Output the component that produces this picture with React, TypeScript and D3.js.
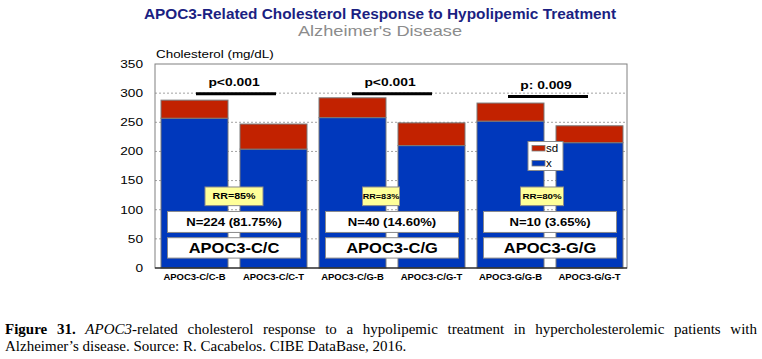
import React, { useLayoutEffect, useRef, useState } from "react";
import * as d3 from "d3";

const categories = ["APOC3-C/C-B", "APOC3-C/C-T", "APOC3-C/G-B", "APOC3-C/G-T", "APOC3-G/G-B", "APOC3-G/G-T"];
const meanValues = [257, 204, 258, 210, 252, 215];
const sdValues = [31, 43, 34, 39, 31, 29];
const yTicks = [0, 50, 100, 150, 200, 250, 300, 350];
const genotypes = ["APOC3-C/C", "APOC3-C/G", "APOC3-G/G"];
const nLabels = ["N=224 (81.75%)", "N=40 (14.60%)", "N=10 (3.65%)"];
const rrLabels = ["RR=85%", "RR=83%", "RR=80%"];
const pLabels = ["p<0.001", "p<0.001", "p: 0.009"];
const pLevels = [300, 300, 295];

const W = 762;
const H = 359;
const M = { left: 155, right: 627, top: 64, bottom: 268 };
const BLUE = "#0038BC";
const RED = "#C22200";
const FONT = "'Liberation Sans', Arial, Helvetica, sans-serif";
const SERIF = "'Liberation Serif', 'Times New Roman', Times, serif";

// annotation styling (RR box tweaks)
const rrBoxW = [58, 37, 43];
const rrShift = [0, -11, -8];
const rrFont = [8.2, 7, 7.5];

function ST(props: any) {
  const { x, y, sx = 1, children, ...rest } = props;
  return (
    <text transform={`translate(${x},${y}) scale(${sx},1)`} fontFamily={FONT} {...rest}>
      {children}
    </text>
  );
}

export default function App() {
  const y = d3.scaleLinear().domain([0, 350]).range([M.bottom, M.top]);
  const x = d3
    .scaleBand<string>()
    .domain(categories)
    .range([M.left, M.left + 474])
    .paddingInner(0.152)
    .paddingOuter(0.076);
  const bw = x.bandwidth();

  const rows = categories.map((c, i) => ({ cat: c, x: meanValues[i], sd: sdValues[i] }));
  const stack = d3.stack<any>().keys(["x", "sd"])(rows);

  const groupCenter = (g: number) => {
    const a = x(categories[2 * g])!;
    const b = x(categories[2 * g + 1])! + bw;
    return (a + b) / 2;
  };

  const capRef = useRef<SVGTextElement>(null);
  const [ws, setWs] = useState(0);
  useLayoutEffect(() => {
    if (capRef.current) {
      const len = capRef.current.getComputedTextLength();
      const txt = capRef.current.textContent || "";
      const n = (txt.match(/ /g) || []).length;
      if (n > 0) setWs((752 - len) / n);
    }
  }, []);

  return (
    <svg
      width={W}
      height={H}
      style={{ position: "absolute", left: 0, top: 0, background: "#fff", display: "block" }}
    >
      <rect x={0} y={0} width={W} height={H} fill="#fff" />
      {/* titles */}
      <ST x={380} y={19} sx={1.06} textAnchor="middle" fontSize={14.5} fontWeight="bold" fill="#1b1f82">
        APOC3-Related Cholesterol Response to Hypolipemic Treatment
      </ST>
      <ST x={380} y={36} sx={1.3} textAnchor="middle" fontSize={14} fill="#8c8c8c">
        Alzheimer's Disease
      </ST>
      <ST x={156} y={58} sx={1.22} fontSize={11} fill="#000">
        Cholesterol (mg/dL)
      </ST>

      {/* gridlines */}
      {yTicks
        .filter((t) => t > 0 && t < 350)
        .map((t) => (
          <line
            key={t}
            x1={M.left}
            x2={M.right}
            y1={y(t)}
            y2={y(t)}
            stroke="#8a8a8a"
            strokeWidth={0.8}
            strokeDasharray="2,2"
          />
        ))}

      {/* y tick labels */}
      {yTicks.map((t) => (
        <ST key={t} x={143} y={y(t) + 3.8} sx={1.3} textAnchor="end" fontSize={10.5} fill="#000">
          {t}
        </ST>
      ))}

      {/* bars */}
      {stack.map((layer, li) => (
        <g key={li}>
          {layer.map((d: any, i: number) => (
            <rect
              key={i}
              x={x(categories[i])}
              y={y(d[1])}
              width={bw}
              height={y(d[0]) - y(d[1])}
              fill={li === 0 ? BLUE : RED}
              stroke="#7a7a7a"
              strokeWidth={1}
            />
          ))}
        </g>
      ))}

      {/* frame */}
      <rect x={M.left} y={M.top} width={M.right - M.left} height={M.bottom - M.top} fill="none" stroke="#808080" strokeWidth={1} />
      <line x1={M.left} x2={M.right} y1={M.bottom} y2={M.bottom} stroke="#000" strokeWidth={1} />

      {/* x labels */}
      {categories.map((c) => (
        <ST key={c} x={x(c)! + bw / 2} y={280} sx={1.13} textAnchor="middle" fontSize={8.4} fontWeight="bold" fill="#000">
          {c}
        </ST>
      ))}

      {/* significance */}
      {pLabels.map((p, g) => {
        const cx = groupCenter(g) + (g === 0 ? 2 : g === 2 ? -2 : 0);
        const ly = y(pLevels[g]) + 0.5;
        return (
          <g key={g}>
            <line x1={cx - 40} x2={cx + 40} y1={ly} y2={ly} stroke="#000" strokeWidth={3} />
            <ST x={cx - 2} y={ly - 7.5} sx={1.32} textAnchor="middle" fontSize={10.5} fontWeight="bold" fill="#000">
              {p}
            </ST>
          </g>
        );
      })}

      {/* annotation boxes */}
      {genotypes.map((gname, g) => {
        const cx = groupCenter(g);
        const rcx = cx + rrShift[g];
        return (
          <g key={gname}>
            <rect x={rcx - rrBoxW[g] / 2} y={y(139)} width={rrBoxW[g]} height={y(107) - y(139)} fill="#FFFF99" stroke="#8a8a8a" strokeWidth={1} />
            <ST x={rcx} y={(y(139) + y(107)) / 2 + rrFont[g] * 0.36} sx={1.3} textAnchor="middle" fontSize={rrFont[g]} fontWeight="bold" fill="#000">
              {rrLabels[g]}
            </ST>
            <rect x={cx - 66.5} y={y(97)} width={133} height={y(61) - y(97)} fill="#fff" stroke="#8a8a8a" strokeWidth={1} />
            <ST x={cx} y={(y(97) + y(61)) / 2 + 4} sx={1.17} textAnchor="middle" fontSize={11.2} fontWeight="bold" fill="#000">
              {nLabels[g]}
            </ST>
            <rect x={cx - 66.5} y={y(52)} width={133} height={y(17) - y(52)} fill="#fff" stroke="#8a8a8a" strokeWidth={1} />
            <ST x={cx} y={(y(52) + y(17)) / 2 + 5.4} sx={1.1} textAnchor="middle" fontSize={15} fontWeight="bold" fill="#000">
              {gname}
            </ST>
          </g>
        );
      })}

      {/* legend */}
      <g>
        <rect x={528} y={141.5} width={35} height={29} fill="#fff" stroke="#8a8a8a" strokeWidth={1} />
        <rect x={532} y={145.5} width={13} height={5.5} fill={RED} stroke="#7a7a7a" strokeWidth={0.8} />
        <ST x={546} y={152} sx={1.1} fontSize={10.5} fill="#000">sd</ST>
        <rect x={532} y={160.5} width={13} height={5.5} fill={BLUE} stroke="#7a7a7a" strokeWidth={0.8} />
        <ST x={546} y={167} sx={1.1} fontSize={10.5} fill="#000">x</ST>
      </g>

      {/* caption */}
      <text ref={capRef} x={5} y={334} fontFamily={SERIF} fontSize={15} fill="#000" wordSpacing={ws}>
        <tspan fontWeight="bold">Figure 31.</tspan> <tspan fontStyle="italic">APOC3</tspan>-related cholesterol response to a hypolipemic treatment in hypercholesterolemic patients with
      </text>
      <text x={5} y={351} fontFamily={SERIF} fontSize={15} fill="#000">
        Alzheimer’s disease. Source: R. Cacabelos. CIBE DataBase, 2016.
      </text>
    </svg>
  );
}
